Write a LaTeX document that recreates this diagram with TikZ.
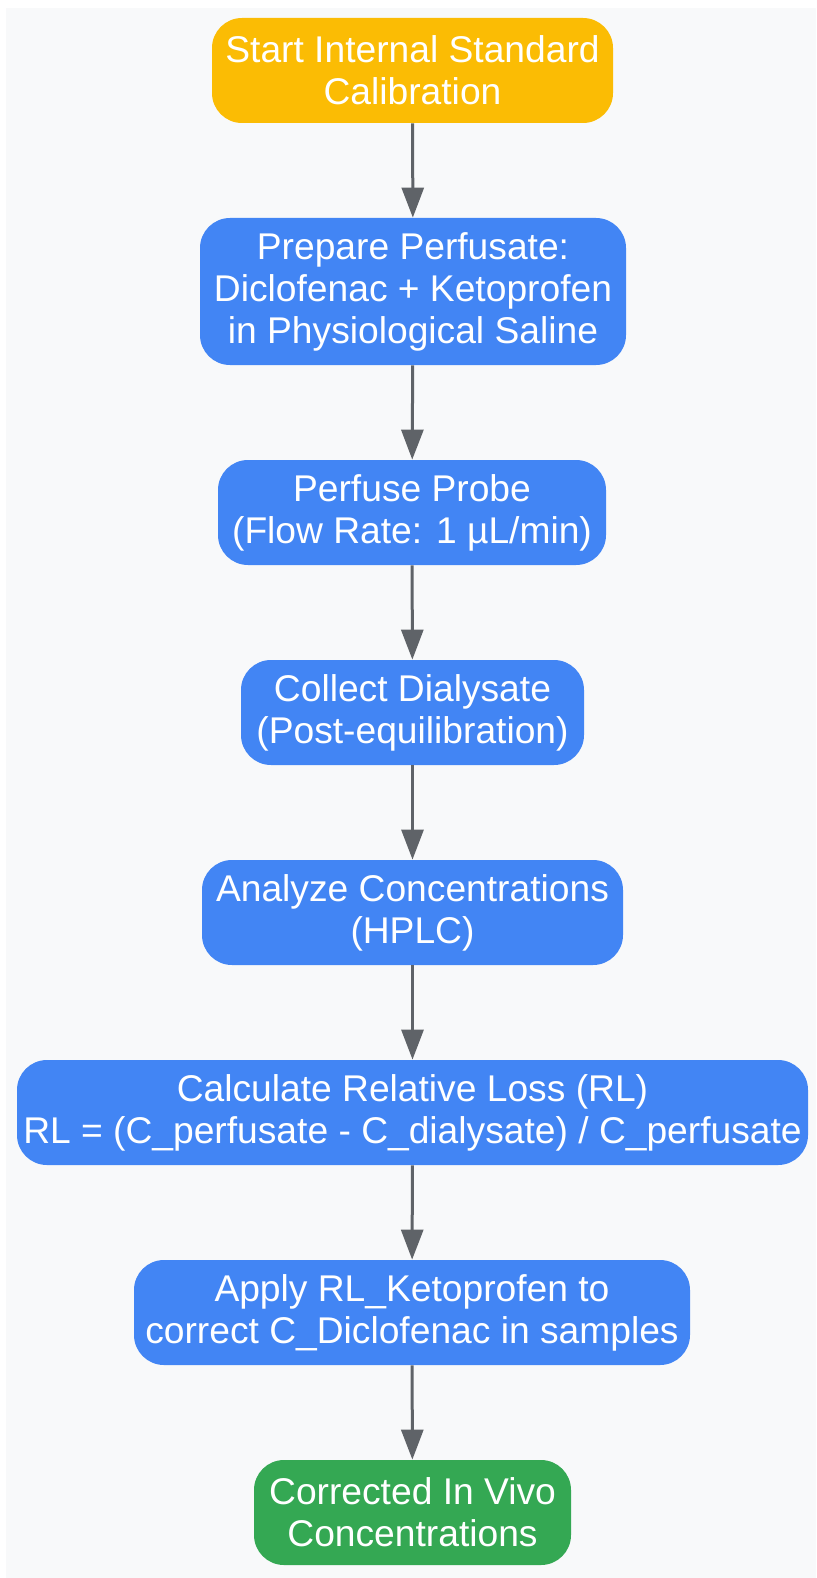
\documentclass[tikz,border=0pt]{standalone}
\usepackage{fontspec}
\setmainfont{Liberation Sans}
\usetikzlibrary{arrows.meta}
\definecolor{bggray}{HTML}{F8F9FA}
\definecolor{gblue}{HTML}{4285F4}
\definecolor{gyellow}{HTML}{FBBC04}
\definecolor{ggreen}{HTML}{34A853}
\definecolor{arrowgray}{HTML}{5F6368}
\tikzset{
  stepbox/.style={rounded corners=15pt, inner sep=0pt, text=white, align=center,
    font=\fontsize{18.6}{21}\selectfont},
  conn/.style={draw=arrowgray, line width=1.5pt,
    -{Triangle[length=15pt,width=11pt]}}
}
\begin{document}
\begin{tikzpicture}[x=0.5pt,y=-0.5pt]
\useasboundingbox (0,0) rectangle (816,1578);
\fill[bggray] (6,8) rectangle (816,1578);
\node[stepbox, fill=gyellow, minimum width=200.5pt, minimum height=52.5pt] (n1) at (412.5,70.5) {Start Internal Standard\\Calibration};
\node[stepbox, fill=gblue, minimum width=213pt, minimum height=73.5pt] (n2) at (413,291.5) {Prepare Perfusate:\\Diclofenac + Ketoprofen\\in Physiological Saline};
\node[stepbox, fill=gblue, minimum width=194pt, minimum height=52.5pt] (n3) at (412,512.5) {Perfuse Probe\\(Flow Rate: 1 µL/min)};
\node[stepbox, fill=gblue, minimum width=171.5pt, minimum height=52.5pt] (n4) at (412.5,712.5) {Collect Dialysate\\(Post-equilibration)};
\node[stepbox, fill=gblue, minimum width=210.5pt, minimum height=52.5pt] (n5) at (412.5,912.5) {Analyze Concentrations\\(HPLC)};
\node[stepbox, fill=gblue, minimum width=395.5pt, minimum height=52.5pt] (n6) at (412.5,1112.5) {Calculate Relative Loss (RL)\\RL = (C\_perfusate - C\_dialysate) / C\_perfusate};
\node[stepbox, fill=gblue, minimum width=278pt, minimum height=52.5pt] (n7) at (412,1312.5) {Apply RL\_Ketoprofen to\\correct C\_Diclofenac in samples};
\node[stepbox, fill=ggreen, minimum width=158.5pt, minimum height=52.5pt] (n8) at (412.5,1512.5) {Corrected In Vivo\\Concentrations};
\draw[conn] (n1) -- (n2);
\draw[conn] (n2) -- (n3);
\draw[conn] (n3) -- (n4);
\draw[conn] (n4) -- (n5);
\draw[conn] (n5) -- (n6);
\draw[conn] (n6) -- (n7);
\draw[conn] (n7) -- (n8);
\end{tikzpicture}
\end{document}
